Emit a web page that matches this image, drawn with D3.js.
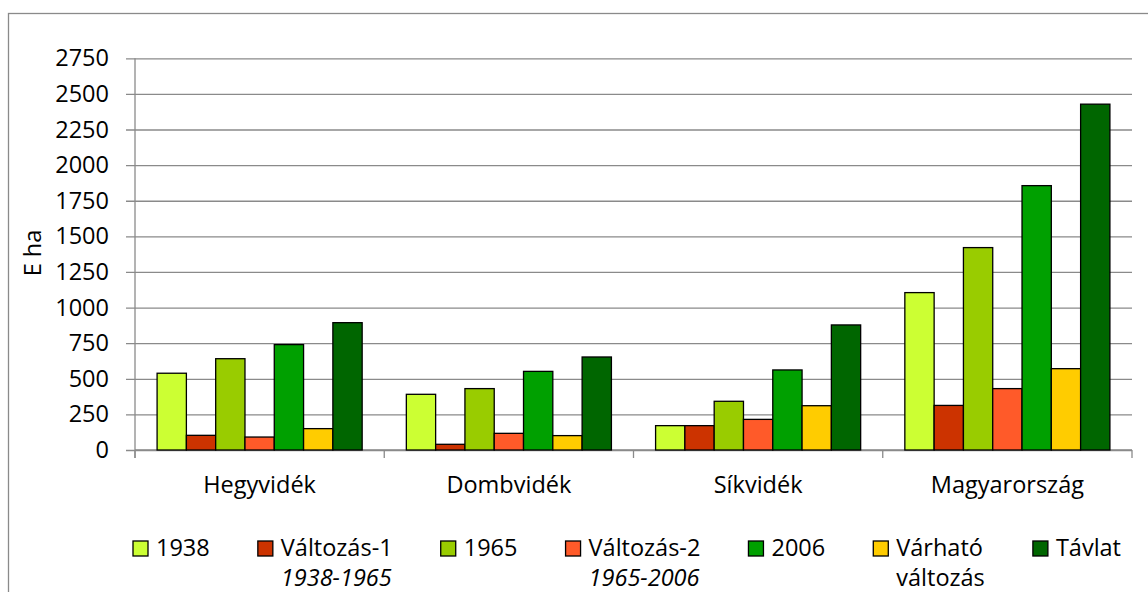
<!DOCTYPE html>
<html>
<head>
<meta charset="utf-8">
<script src="https://cdn.jsdelivr.net/npm/d3@7"></script>
<style>
  html, body { margin: 0; padding: 0; background: #fff; }
  svg { display: block; }
  text { font-family: "Open Sans", "Noto Sans", sans-serif; fill: #000; }
</style>
</head>
<body>
<svg id="chart" width="1148" height="592"></svg>
<script>
// ---- data ----
const categories = ["Hegyvidék", "Dombvidék", "Síkvidék", "Magyarország"];
const seriesNames = ["1938", "Változás-1", "1965", "Változás-2", "2006", "Várható változás", "Távlat"];
const s1938     = [539, 391, 171, 1105];
const sValt1    = [103, 40, 171, 313];
const s1965     = [641, 431, 342, 1421];
const sValt2    = [91, 117, 215, 431];
const s2006     = [740, 552, 562, 1856];
const sVarhato  = [150, 101, 311, 571];
const sTavlat   = [894, 653, 878, 2428];
const seriesValues = [s1938, sValt1, s1965, sValt2, s2006, sVarhato, sTavlat];
const seriesColors = ["#CCFF33", "#CC3300", "#99CC00", "#FF5A29", "#00A000", "#FFCC00", "#006600"];
const yTicks = [0, 250, 500, 750, 1000, 1250, 1500, 1750, 2000, 2250, 2500, 2750];
const yLabel = "E ha";
// legend lines: first line, second line, second line italic?
const legendLine1 = ["1938", "Változás-1", "1965", "Változás-2", "2006", "Várható", "Távlat"];
const legendLine2 = ["", "1938-1965", "", "1965-2006", "", "változás", ""];
const legendLine2Italic = [false, true, false, true, false, false, false];

// ---- layout ----
const svg = d3.select("#chart");
const W = 1148, H = 592;
const plot = { left: 135, right: 1132, top: 58.3, bottom: 450 };
const FS = 23.5;
const gridColor = "#8a8a8a";

// outer chart border
svg.append("rect")
  .attr("x", 8.5).attr("y", 13.5)
  .attr("width", W + 20).attr("height", H + 20)
  .attr("fill", "none").attr("stroke", gridColor).attr("stroke-width", 1.3);

const y = d3.scaleLinear().domain([0, 2750]).range([plot.bottom, plot.top]);
const x0 = d3.scaleBand().domain(categories).range([plot.left, plot.right]).paddingInner(0).paddingOuter(0);
const x1 = d3.scaleBand().domain(seriesNames).range([0, x0.bandwidth()]).paddingInner(0).paddingOuter(0.754);

// gridlines + y axis ticks
const tickLen = plot.right - plot.left + 9;
const yAxis = d3.axisLeft(y).tickValues(yTicks).tickSize(tickLen).tickPadding(17).tickFormat(d3.format("d"));
const gy = svg.append("g").attr("transform", `translate(${plot.right},0)`).call(yAxis);
gy.select(".domain").remove();
gy.selectAll(".tick line").attr("stroke", gridColor).attr("stroke-width", 1.3);
gy.selectAll(".tick text").attr("font-size", FS).attr("font-family", "'Open Sans', sans-serif").attr("fill", "#000");

// y axis line
svg.append("line")
  .attr("x1", plot.left).attr("x2", plot.left)
  .attr("y1", plot.top).attr("y2", plot.bottom + 8)
  .attr("stroke", gridColor).attr("stroke-width", 1.3);

// x axis with category separators
const xAxisG = svg.append("g");
xAxisG.append("line")
  .attr("x1", plot.left).attr("x2", plot.right)
  .attr("y1", plot.bottom).attr("y2", plot.bottom)
  .attr("stroke", gridColor).attr("stroke-width", 1.3);
const sepXs = categories.map(c => x0(c)).concat([x0(categories[categories.length - 1]) + x0.bandwidth()]);
xAxisG.selectAll("line.sep").data(sepXs).enter().append("line")
  .attr("class", "sep")
  .attr("x1", d => d).attr("x2", d => d)
  .attr("y1", plot.bottom).attr("y2", plot.bottom + 8)
  .attr("stroke", gridColor).attr("stroke-width", 1.3);
xAxisG.selectAll("text.cat").data(categories).enter().append("text")
  .attr("class", "cat")
  .attr("x", d => x0(d) + x0.bandwidth() / 2)
  .attr("y", 493)
  .attr("text-anchor", "middle")
  .attr("font-size", FS)
  .text(d => d);

// bars
const barData = [];
categories.forEach((c, ci) => {
  seriesNames.forEach((s, si) => {
    barData.push({ cat: c, ser: s, val: seriesValues[si][ci], color: seriesColors[si] });
  });
});
svg.append("g").selectAll("rect").data(barData).enter().append("rect")
  .attr("x", d => x0(d.cat) + x1(d.ser))
  .attr("y", d => y(d.val))
  .attr("width", x1.bandwidth())
  .attr("height", d => y(0) - y(d.val))
  .attr("fill", d => d.color)
  .attr("stroke", "#000")
  .attr("stroke-width", 1.3);

// y label
svg.append("text")
  .attr("transform", "translate(41,253) rotate(-90)")
  .attr("text-anchor", "middle")
  .attr("font-size", FS)
  .text(yLabel);

// legend (flow layout spanning the reference width)
const legend = svg.append("g");
const sw = 15, swGap = 8;
const legendLeft = 133, legendRight = 1121;
const items = legendLine1.map((t, i) => {
  const g = legend.append("g");
  g.append("rect").attr("x", 0).attr("y", -15).attr("width", sw).attr("height", sw)
    .attr("fill", seriesColors[i]).attr("stroke", "#000").attr("stroke-width", 1.3);
  const t1 = g.append("text").attr("x", sw + swGap).attr("y", 0).attr("font-size", FS).text(t);
  let w = t1.node().getComputedTextLength();
  if (legendLine2[i]) {
    const t2 = g.append("text").attr("x", sw + swGap).attr("y", 30).attr("font-size", FS)
      .attr("font-style", legendLine2Italic[i] ? "italic" : "normal").text(legendLine2[i]);
    w = Math.max(w, t2.node().getComputedTextLength());
  }
  return { g, w: sw + swGap + w };
});
const sumW = items.reduce((a, it) => a + it.w, 0);
const itemGap = Math.max(20, (legendRight - legendLeft - sumW) / (items.length - 1));
let cx = legendLeft;
items.forEach(it => {
  it.g.attr("transform", `translate(${cx},556)`);
  cx += it.w + itemGap;
});
</script>
</body>
</html>
